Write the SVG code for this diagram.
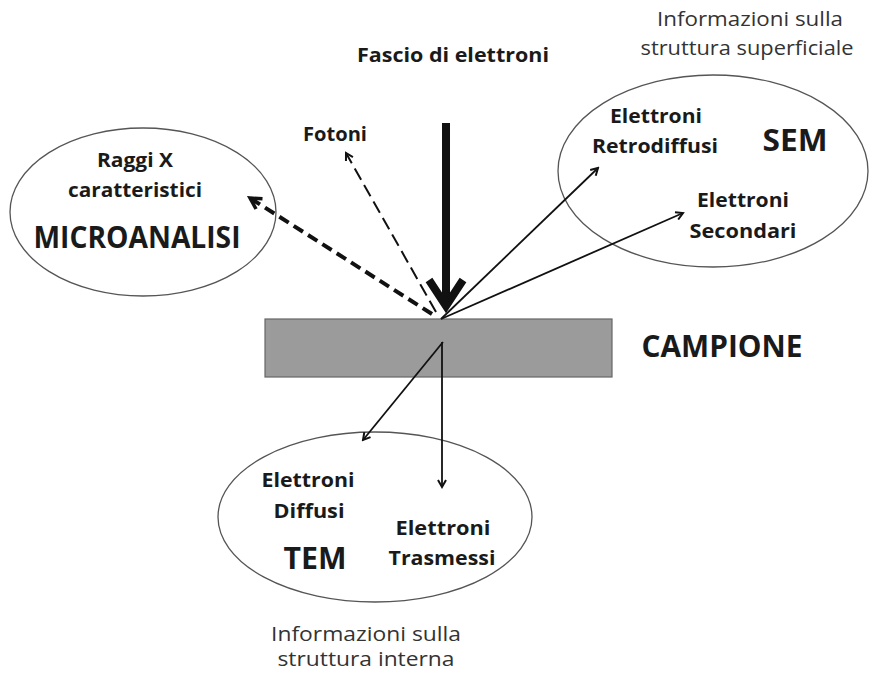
<svg xmlns="http://www.w3.org/2000/svg" width="870" height="674" viewBox="0 0 870 674">
<style>
text{font-family:"Open Sans","Liberation Sans",sans-serif;fill:#1a1a1a;text-anchor:middle}
.b{font-weight:bold;font-size:19px}
.big{font-weight:bold;font-size:30px}
.info{font-size:20px;fill:#333}
.ell{fill:#fff;stroke:#555;stroke-width:1.3}
.ln{stroke:#111;fill:none}
</style>
<defs>
<marker id="ah" markerWidth="10" markerHeight="10" refX="8" refY="5" orient="auto" markerUnits="userSpaceOnUse">
<path d="M1,1 L8,5 L1,9" fill="none" stroke="#111" stroke-width="2"/>
</marker>
<marker id="ahb" markerWidth="16" markerHeight="16" refX="13" refY="8" orient="auto" markerUnits="userSpaceOnUse">
<path d="M2,2 L13,8 L2,14" fill="none" stroke="#111" stroke-width="3.5"/>
</marker>
</defs>
<rect width="870" height="674" fill="#fff"/>

<g id="sem">
<ellipse class="ell" cx="713" cy="171" rx="155" ry="96"/>
<text class="b" x="656" y="123" textLength="92" lengthAdjust="spacingAndGlyphs">Elettroni</text>
<text class="b" x="655" y="153" textLength="126" lengthAdjust="spacingAndGlyphs">Retrodiffusi</text>
<text class="big" x="795" y="151" textLength="65" lengthAdjust="spacingAndGlyphs">SEM</text>
<text class="b" x="743" y="207" textLength="92" lengthAdjust="spacingAndGlyphs">Elettroni</text>
<text class="b" x="743" y="238" textLength="107" lengthAdjust="spacingAndGlyphs">Secondari</text>
</g>
<g id="sem-info">
<text class="info" x="750" y="26" textLength="186" lengthAdjust="spacingAndGlyphs">Informazioni sulla</text>
<text class="info" x="747" y="55" textLength="213" lengthAdjust="spacingAndGlyphs">struttura superficiale</text>
</g>

<g id="micro">
<ellipse class="ell" cx="143" cy="212" rx="133" ry="84"/>
<text class="b" x="135" y="167" textLength="76" lengthAdjust="spacingAndGlyphs">Raggi X</text>
<text class="b" x="135" y="197" textLength="134" lengthAdjust="spacingAndGlyphs">caratteristici</text>
<text class="big" x="137" y="248" textLength="207" lengthAdjust="spacingAndGlyphs">MICROANALISI</text>
</g>

<g id="tem">
<ellipse class="ell" cx="375" cy="517" rx="157" ry="85"/>
<text class="b" x="308" y="487" textLength="93" lengthAdjust="spacingAndGlyphs">Elettroni</text>
<text class="b" x="309" y="518" textLength="71" lengthAdjust="spacingAndGlyphs">Diffusi</text>
<text class="big" x="315" y="569" textLength="63" lengthAdjust="spacingAndGlyphs">TEM</text>
<text class="b" x="443" y="535" textLength="95" lengthAdjust="spacingAndGlyphs">Elettroni</text>
<text class="b" x="442" y="565" textLength="107" lengthAdjust="spacingAndGlyphs">Trasmessi</text>
</g>
<g id="tem-info">
<text class="info" x="366" y="641" textLength="190" lengthAdjust="spacingAndGlyphs">Informazioni sulla</text>
<text class="info" x="366" y="666" textLength="177" lengthAdjust="spacingAndGlyphs">struttura interna</text>
</g>

<g id="campione">
<rect x="265" y="319" width="347" height="58" fill="#9b9b9b" stroke="#666" stroke-width="1.2"/>
<text class="big" x="722" y="357" textLength="161" lengthAdjust="spacingAndGlyphs">CAMPIONE</text>
</g>

<g id="beam">
<text class="b" x="453" y="62" style="font-size:20px" textLength="192" lengthAdjust="spacingAndGlyphs">Fascio di elettroni</text>
</g>

<g id="fotoni">
<text class="b" x="335" y="141" textLength="64" lengthAdjust="spacingAndGlyphs">Fotoni</text>
</g>

<g id="connectors">
<line class="ln" x1="446" y1="123" x2="446" y2="304" stroke-width="8"/>
<polyline class="ln" points="429,280 446,306 463,280" stroke-width="8" stroke-linejoin="miter"/>
<line class="ln" x1="436" y1="312" x2="346" y2="153" stroke-width="2" stroke-dasharray="13,6" marker-end="url(#ah)"/>
<line class="ln" x1="432" y1="314" x2="250" y2="198" stroke-width="4" stroke-dasharray="11,6" marker-end="url(#ahb)"/>
<line class="ln" x1="441" y1="319" x2="598" y2="168" stroke-width="1.8" marker-end="url(#ah)"/>
<line class="ln" x1="441" y1="319" x2="683" y2="213" stroke-width="1.8" marker-end="url(#ah)"/>
<line class="ln" x1="443" y1="342" x2="363" y2="440" stroke-width="1.8" marker-end="url(#ah)"/>
<line class="ln" x1="442" y1="342" x2="442" y2="487" stroke-width="1.8" marker-end="url(#ah)"/>
</g>
</svg>
